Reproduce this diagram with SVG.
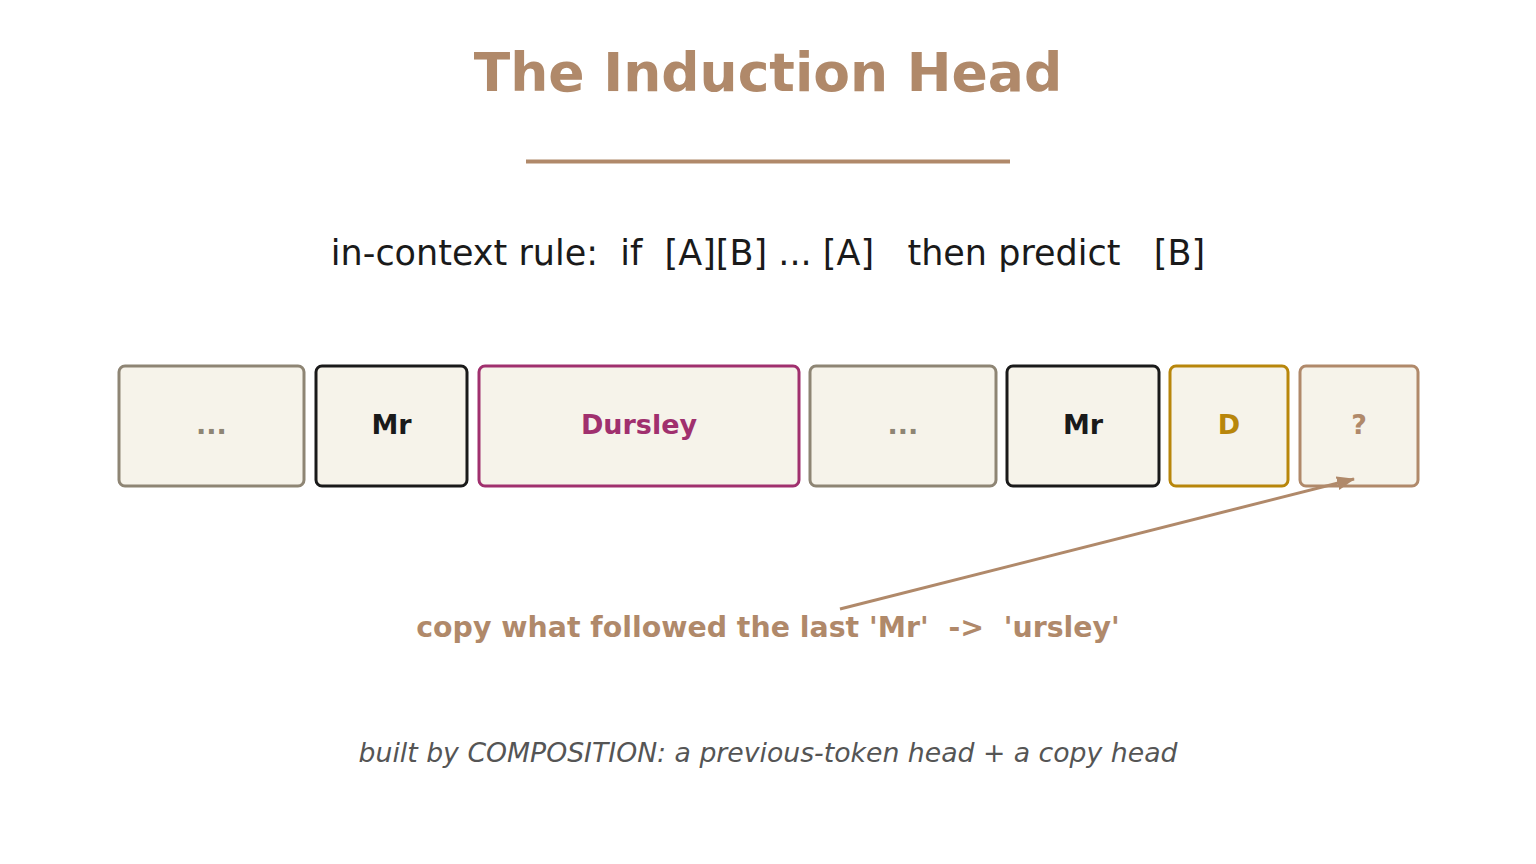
<svg xmlns="http://www.w3.org/2000/svg" width="1536" height="864" viewBox="0 0 1536 864" xml:space="preserve">
<style>
text { font-family: "DejaVu Sans", "Liberation Sans", sans-serif; text-anchor: middle; white-space: pre; }
.tok { fill: #F6F3EA; stroke-width: 3; }
.lbl { font-size: 27px; font-weight: bold; }
</style>
<defs>
<marker id="ah" viewBox="0 0 18 14" refX="17" refY="7" markerWidth="18" markerHeight="14" orient="auto" markerUnits="userSpaceOnUse">
<path d="M0,0 L18,7 L0,14 z" fill="#B0896A"/>
</marker>
</defs>
<rect width="1536" height="864" fill="#FFFFFF"/>
<text x="768" y="91" font-size="53.5" font-weight="bold" fill="#B0896A">The Induction Head</text>
<line x1="526" y1="161.5" x2="1010" y2="161.5" stroke="#B0896A" stroke-width="4"/>
<text x="768" y="265" font-size="35" fill="#1A1A1A">in-context rule:  if  [A][B] ... [A]   then predict   [B]</text>
<g id="tok1"><rect class="tok" x="119" y="366" width="185" height="120" rx="6" stroke="#8E8574"/><text class="lbl" x="211.5" y="434" fill="#8E8574">...</text></g>
<g id="tok2"><rect class="tok" x="316" y="366" width="151" height="120" rx="6" stroke="#1A1A1A"/><text class="lbl" x="391.5" y="434" fill="#1A1A1A">Mr</text></g>
<g id="tok3"><rect class="tok" x="479" y="366" width="320" height="120" rx="6" stroke="#A0306E"/><text class="lbl" x="639" y="434" fill="#A0306E">Dursley</text></g>
<g id="tok4"><rect class="tok" x="810" y="366" width="186" height="120" rx="6" stroke="#8E8574"/><text class="lbl" x="903" y="434" fill="#8E8574">...</text></g>
<g id="tok5"><rect class="tok" x="1007" y="366" width="152" height="120" rx="6" stroke="#1A1A1A"/><text class="lbl" x="1083" y="434" fill="#1A1A1A">Mr</text></g>
<g id="tok6"><rect class="tok" x="1170" y="366" width="118" height="120" rx="6" stroke="#B8860B"/><text class="lbl" x="1229" y="434" fill="#B8860B">D</text></g>
<g id="tok7"><rect class="tok" x="1300" y="366" width="118" height="120" rx="6" stroke="#B0896A"/><text class="lbl" x="1359" y="434" fill="#B0896A">?</text></g>
<g id="connectors">
<line x1="840" y1="609" x2="1354" y2="479" stroke="#B0896A" stroke-width="3" marker-end="url(#ah)"/>
</g>
<text x="768" y="637" font-size="28.4" font-weight="bold" fill="#B0896A">copy what followed the last 'Mr'  -&gt;  'ursley'</text>
<text x="768" y="762" font-size="26.7" font-style="italic" fill="#555555">built by COMPOSITION: a previous-token head + a copy head</text>
</svg>
